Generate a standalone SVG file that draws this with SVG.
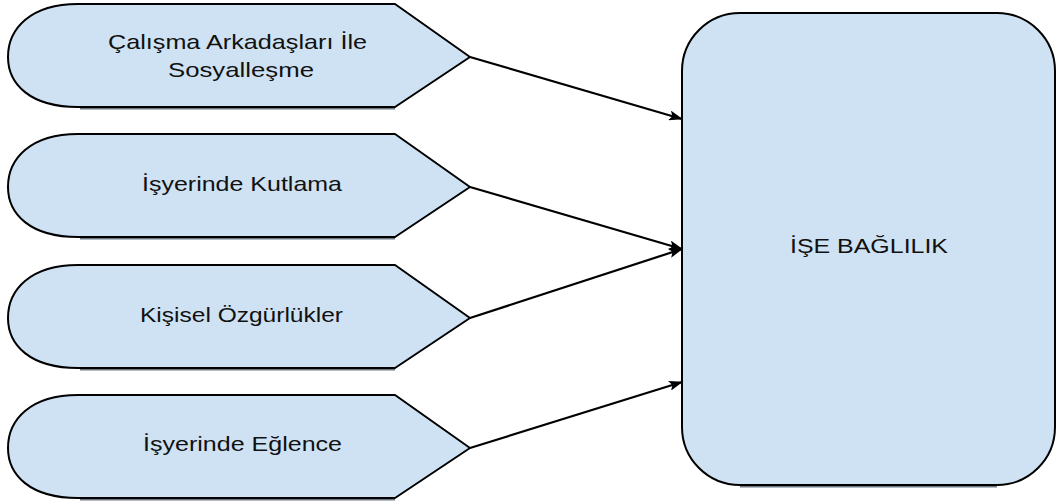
<svg xmlns="http://www.w3.org/2000/svg" width="1057" height="502" viewBox="0 0 1057 502">
<style>
.node{fill:#cfe2f3;stroke:#000;stroke-width:2;stroke-linejoin:round}
.shadow{fill:none;stroke:#6d7680;stroke-width:2}
.lbl{font-family:"Liberation Sans",Arial,sans-serif;font-size:21px;fill:#111}
.conn{fill:none;stroke:#000;stroke-width:2.2}
</style>
<defs>
<marker id="ah" viewBox="0 0 14 10" refX="13" refY="5" markerWidth="14" markerHeight="10" markerUnits="userSpaceOnUse" orient="auto">
<path d="M0,0 L14,5 L0,10 L3,5 Z" fill="#000"/>
</marker>
<path id="disp" d="M78,0 L395,0 L470,53 L395,103 L78,103 C30,103 8,80 8,53 C8,25 30,0 78,0 Z"/>
</defs>
<g id="node1">
<line class="shadow" x1="80" y1="108.5" x2="395" y2="108.5"/>
<use href="#disp" class="node" transform="translate(0,4)"/>
<text class="lbl" x="108" y="49" textLength="259" lengthAdjust="spacingAndGlyphs">Çalışma Arkadaşları İle</text>
<text class="lbl" x="168" y="77" textLength="146" lengthAdjust="spacingAndGlyphs">Sosyalleşme</text>
</g>
<g id="node2">
<line class="shadow" x1="80" y1="238.5" x2="395" y2="238.5"/>
<use href="#disp" class="node" transform="translate(0,134)"/>
<text class="lbl" x="142" y="191" textLength="200" lengthAdjust="spacingAndGlyphs">İşyerinde Kutlama</text>
</g>
<g id="node3">
<line class="shadow" x1="80" y1="369.5" x2="395" y2="369.5"/>
<use href="#disp" class="node" transform="translate(0,265)"/>
<text class="lbl" x="140" y="322" textLength="203" lengthAdjust="spacingAndGlyphs">Kişisel Özgürlükler</text>
</g>
<g id="node4">
<line class="shadow" x1="80" y1="499.5" x2="395" y2="499.5"/>
<use href="#disp" class="node" transform="translate(0,395)"/>
<text class="lbl" x="143" y="451" textLength="199" lengthAdjust="spacingAndGlyphs">İşyerinde Eğlence</text>
</g>
<g id="target">
<line class="shadow" x1="740" y1="486.5" x2="997" y2="486.5"/>
<rect class="node" x="682" y="13" width="373" height="472" rx="58" ry="58"/>
<text class="lbl" x="790" y="253" textLength="158" lengthAdjust="spacingAndGlyphs">İŞE BAĞLILIK</text>
</g>
<g id="connectors">
<line class="conn" x1="470" y1="57" x2="682" y2="119" marker-end="url(#ah)"/>
<line class="conn" x1="470" y1="187" x2="682" y2="249" marker-end="url(#ah)"/>
<line class="conn" x1="470" y1="318" x2="682" y2="249" marker-end="url(#ah)"/>
<line class="conn" x1="470" y1="448" x2="682" y2="382" marker-end="url(#ah)"/>
</g>
</svg>
